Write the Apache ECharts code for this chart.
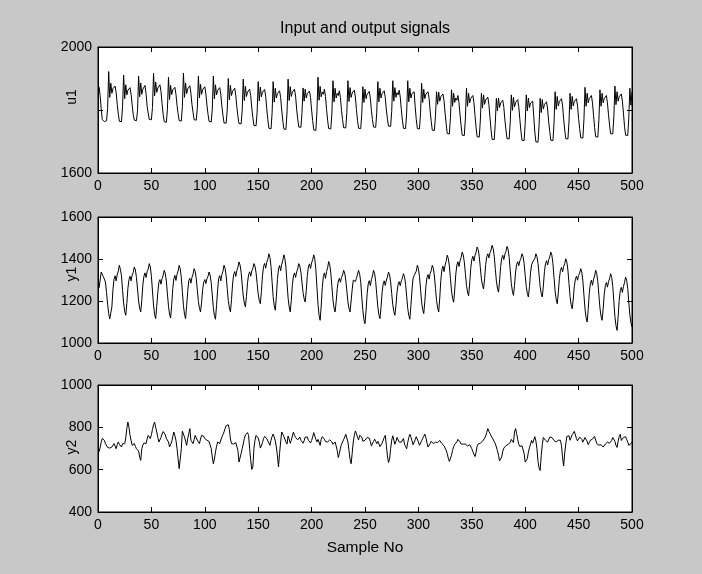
<!DOCTYPE html>
<html>
<head>
<meta charset="utf-8">
<script src="https://cdn.jsdelivr.net/npm/echarts@6/dist/echarts.min.js"></script>
<style>
  html, body { margin: 0; padding: 0; background: #c8c8c8; }
  #chart { width: 702px; height: 574px; }
</style>
</head>
<body>
<div id="chart"></div>
<script>
// Input signal u1 (samples 1..500)
const u1 = [
  1874,1846,1803,1770,
  1768,1763,1762,1766,1805,1922,1840,1885,1853,1868,1862,1876,1855,1818,
  1788,1764,1760,1763,1812,1911,1836,1880,1848,1863,1857,1871,1850,1815,
  1785,1768,1763,1766,1798,1908,1842,1886,1850,1866,1864,1878,1852,1812,
  1790,1770,1765,1769,1808,1917,1845,1889,1856,1870,1865,1880,1858,1820,
  1786,1763,1758,1761,1802,1904,1833,1878,1849,1864,1858,1872,1850,1814,
  1789,1766,1762,1765,1810,1917,1840,1886,1852,1867,1861,1877,1853,1817,
  1792,1769,1765,1768,1806,1908,1838,1882,1850,1865,1860,1874,1851,1816,
  1787,1764,1760,1762,1803,1908,1835,1880,1848,1862,1857,1871,1849,1812,
  1783,1759,1755,1758,1800,1900,1832,1878,1846,1860,1855,1869,1847,1810,
  1780,1757,1753,1756,1797,1898,1830,1875,1843,1857,1852,1866,1845,1806,
  1776,1751,1747,1750,1793,1890,1829,1873,1842,1857,1851,1865,1844,1804,
  1770,1742,1737,1740,1790,1890,1825,1869,1838,1852,1846,1861,1840,1800,
  1768,1740,1735,1738,1794,1898,1830,1874,1843,1857,1851,1866,1844,1803,
  1772,1746,1742,1745,1792,1870,1828,1866,1838,1852,1847,1860,1840,1800,
  1766,1737,1732,1735,1796,1904,1831,1875,1842,1857,1850,1866,1843,1802,
  1768,1741,1737,1740,1790,1893,1826,1869,1838,1853,1846,1861,1839,1799,
  1769,1744,1740,1743,1792,1893,1827,1871,1840,1854,1848,1863,1841,1801,
  1767,1742,1738,1741,1788,1874,1824,1866,1836,1850,1844,1859,1837,1798,
  1770,1746,1742,1745,1791,1890,1826,1869,1838,1852,1846,1861,1839,1800,
  1772,1749,1745,1748,1795,1893,1828,1871,1840,1855,1848,1863,1841,1802,
  1768,1742,1738,1741,1790,1893,1826,1869,1838,1852,1846,1858,1810,
  1770,1741,1737,1740,1788,1885,1824,1866,1836,1850,1844,1858,1837,1797,
  1764,1736,1732,1735,1782,1858,1818,1857,1828,1842,1836,1851,1829,1790,
  1756,1725,1721,1724,1776,1864,1812,1853,1824,1838,1831,1846,1824,1784,
  1750,1720,1716,1719,1774,1869,1812,1853,1823,1837,1831,1846,1823,1782,
  1745,1715,1711,1714,1768,1853,1806,1848,1818,1832,1826,1841,1818,1777,
  1738,1707,1703,1706,1758,1837,1797,1838,1808,1822,1816,1831,1808,1768,
  1736,1709,1705,1708,1762,1848,1799,1840,1810,1824,1818,1833,1810,1770,
  1733,1704,1700,1703,1758,1848,1797,1838,1808,1822,1816,1828,1780,
  1730,1699,1695,1698,1752,1837,1792,1833,1803,1817,1811,1826,1803,1762,
  1732,1704,1700,1703,1760,1858,1802,1843,1813,1827,1821,1836,1813,1772,
  1737,1709,1705,1708,1762,1853,1802,1843,1813,1827,1821,1836,1813,1773,
  1741,1712,1708,1711,1770,1872,1812,1853,1823,1837,1831,1846,1823,1783,
  1744,1715,1711,1714,1768,1864,1812,1853,1823,1837,1831,1846,1823,1785,
  1752,1725,1721,1724,1778,1876,1817,1858,1828,1842,1836,1851,1828,1790,
  1748,1720,1716,1719,1774,1869,1815,1858
];

// Output signal y1
const y1 = [
  1262,1300,1338,1330,1316,1322,1290,1240,1185,1140,1115,
  1108,1172,1255,1303,1320,1296,1326,1342,1370,1350,1320,1250,1190,1150,
  1132,1188,1260,1302,1318,1296,1324,1336,1362,1348,1312,1257,1200,1166,
  1148,1203,1276,1318,1334,1312,1340,1352,1378,1362,1318,1248,1180,1136,
  1116,1175,1240,1290,1302,1280,1307,1321,1346,1331,1295,1234,1175,1138,
  1119,1180,1259,1305,1322,1298,1327,1343,1370,1353,1312,1245,1178,1137,
  1116,1178,1245,1297,1308,1285,1313,1328,1354,1341,1307,1252,1198,1165,
  1148,1194,1255,1289,1302,1283,1306,1317,1338,1323,1287,1228,1168,1130,
  1113,1179,1252,1308,1321,1296,1326,1342,1370,1355,1319,1260,1202,1167,
  1148,1206,1281,1325,1340,1317,1345,1360,1386,1372,1337,1280,1224,1190,
  1172,1222,1287,1325,1339,1318,1343,1355,1378,1366,1334,1284,1233,1203,
  1187,1245,1320,1364,1379,1356,1384,1399,1425,1407,1364,1292,1221,1177,
  1156,1220,1303,1352,1369,1344,1374,1392,1420,1402,1358,1285,1214,1171,
  1148,1204,1277,1319,1334,1312,1339,1353,1378,1366,1336,1288,1240,1211,
  1195,1249,1321,1362,1377,1355,1382,1396,1420,1399,1349,1265,1184,1132,
  1108,1176,1264,1316,1334,1308,1340,1358,1388,1372,1333,1269,1206,1168,
  1148,1196,1259,1295,1308,1289,1312,1324,1346,1333,1300,1248,1196,1165,
  1148,1200,1255,1299,1304,1293,1308,1328,1346,1327,1291,1218,1155,1111,
  1092,1154,1234,1281,1297,1273,1302,1319,1346,1331,1293,1232,1172,1135,
  1116,1170,1240,1281,1296,1274,1300,1314,1338,1325,1291,1236,1182,1149,
  1132,1180,1243,1279,1292,1273,1296,1308,1330,1316,1280,1223,1165,1131,
  1113,1179,1252,1308,1321,1326,1342,1370,1355,1317,1256,1196,1159,
  1140,1196,1269,1311,1326,1304,1331,1345,1370,1356,1319,1260,1202,1167,
  1148,1214,1299,1349,1366,1340,1371,1389,1418,1403,1367,1307,1248,1213,
  1194,1252,1327,1371,1387,1364,1392,1407,1433,1419,1385,1330,1275,1243,
  1225,1281,1355,1397,1413,1390,1417,1432,1457,1444,1411,1358,1305,1274,
  1257,1307,1373,1411,1425,1405,1430,1442,1465,1450,1414,1354,1296,1261,
  1242,1295,1364,1404,1418,1397,1423,1436,1460,1445,1407,1345,1283,1247,
  1227,1275,1338,1374,1387,1368,1391,1403,1425,1412,1378,1323,1269,1236,
  1219,1269,1334,1372,1386,1390,1402,1425,1412,1378,1323,1269,1236,
  1219,1271,1339,1378,1392,1371,1396,1410,1433,1417,1377,1311,1247,1208,
  1187,1239,1307,1346,1360,1339,1364,1378,1401,1385,1347,1283,1221,1183,
  1163,1209,1270,1304,1318,1299,1322,1333,1354,1337,1296,1228,1162,1121,
  1100,1160,1237,1283,1299,1275,1304,1319,1346,1330,1292,1228,1166,1128,
  1108,1162,1232,1273,1288,1266,1292,1306,1330,1312,1269,1196,1126,1083,
  1060,1122,1202,1249,1265,1241,1270,1287,1314,1298,1260,1196,1134,1096,
  1076
];

// Output signal y2
const y2 = [
  684,705,730,748,754,738,722,715,705,699,702,710,707,716,723,712,699,718,731,720,712,707,722,731,723,
  750,795,825,800,762,738,715,720,723,710,699,707,688,660,644,699,716,726,731,723,745,762,758,747,765,
  790,812,825,800,778,752,731,739,752,768,780,786,765,747,738,731,707,720,731,755,778,760,739,700,652,
  605,650,699,782,768,754,735,715,747,770,794,739,730,723,742,762,750,739,730,723,745,762,770,758,747,
  743,739,735,733,731,700,660,628,650,684,710,731,727,723,740,754,766,778,795,808,817,812,790,745,723,
  731,721,715,728,735,691,636,641,676,699,721,747,765,770,775,762,699,644,601,613,699,739,762,768,750,
  731,702,712,728,747,757,754,747,736,728,715,739,757,768,754,736,707,665,613,676,731,778,768,757,750,
  731,721,759,744,725,738,759,778,762,752,747,741,744,754,739,730,725,736,754,760,754,739,730,726,738,
  754,775,759,743,731,743,739,715,744,756,762,744,733,738,731,723,741,741,731,720,718,731,712,690,657,
  677,702,720,731,743,754,767,776,731,691,649,628,677,731,762,783,770,752,741,762,767,754,734,726,739,
  739,752,760,749,733,712,718,734,744,734,723,734,728,709,716,725,730,752,762,714,665,634,649,699,739,
  760,754,720,734,752,743,731,723,730,738,747,721,709,699,728,752,767,754,736,718,726,741,756,752,731,
  715,715,736,747,757,768,752,728,707,709,723,734,734,723,728,730,723,728,731,738,733,723,716,713,707,
  691,676,654,639,636,668,691,709,720,726,731,743,743,731,721,716,721,723,721,716,712,707,718,718,699,
  685,673,662,682,711,721,723,725,730,734,739,749,759,776,794,781,771,762,752,743,733,723,707,690,668,
  642,644,660,687,702,707,713,721,720,716,728,743,738,728,778,794,770,743,720,709,710,713,709,676,636,
  630,652,684,704,721,738,725,725,756,736,699,639,608,596,666,718,752,744,739,747,730,723,754,759,752,
  744,738,734,731,734,739,744,739,713,656,618,679,721,757,765,760,739,752,765,773,781,776,747,736,731,
  754,756,743,730,733,752,744,734,718,728,739,743,744,748,757,750,723,718,716,723,718,713,707,715,721,
  730,730,726,725,726,738,752,756,734,715,705,734,756,767,738,734,752,759,756,743,730,715,720,723,731
];

const axisNames = ['u1', 'y1', 'y2'];
const yLimits = [[1600, 2000], [1000, 1600], [400, 1000]];
// tick values whose labels are left blank (the u1 caption sits there)
const blankTickLabels = [[1800], [], []];
const yStep = 200;
const xLimits = [0, 500];
const xStep = 50;
const titleText = 'Input and output signals';
const xLabelText = 'Sample No';

const signals = [u1, y1, y2];
const boxes = [
  { top: 47, height: 126, captionY: 97 },
  { top: 217, height: 126, captionY: 274 },
  { top: 385, height: 127, captionY: 447 }
];
const plotLeft = 98, plotWidth = 534;
const font = 'Liberation Sans, Arial, sans-serif';
const tickSize = 14;
const black = '#000';

const grid = [], xAxis = [], yAxis = [], series = [], names = [];
boxes.forEach((b, i) => {
  grid.push({
    left: plotLeft, top: b.top, width: plotWidth, height: b.height,
    show: true, backgroundColor: '#fff', borderColor: black, borderWidth: 1,
    containLabel: false
  });
  const xBase = {
    type: 'value', gridIndex: i, min: xLimits[0], max: xLimits[1], interval: xStep,
    axisLine: { show: true, onZero: false, lineStyle: { color: black, width: 1 } },
    axisTick: { show: true, inside: true, length: 5, lineStyle: { color: black } },
    splitLine: { show: false }
  };
  xAxis.push(Object.assign({}, xBase, {
    position: 'bottom',
    axisLabel: { show: true, color: black, fontFamily: font, fontSize: tickSize, margin: 6,
                 formatter: v => String(v) }
  }));
  xAxis.push(Object.assign({}, xBase, { position: 'top', axisLabel: { show: false } }));
  const yBase = {
    type: 'value', gridIndex: i, min: yLimits[i][0], max: yLimits[i][1], interval: yStep,
    axisLine: { show: true, onZero: false, lineStyle: { color: black, width: 1 } },
    axisTick: { show: true, inside: true, length: 5, lineStyle: { color: black } },
    splitLine: { show: false }
  };
  yAxis.push(Object.assign({}, yBase, {
    position: 'left',
    axisLabel: { show: true, color: black, fontFamily: font, fontSize: tickSize, margin: 6,
                 formatter: v => (blankTickLabels[i].indexOf(v) >= 0 ? '' : String(v)) }
  }));
  yAxis.push(Object.assign({}, yBase, { position: 'right', axisLabel: { show: false } }));
  series.push({
    type: 'line', xAxisIndex: 2 * i, yAxisIndex: 2 * i,
    data: signals[i].map((v, k) => [k + 1, v]),
    showSymbol: false, symbol: 'none', smooth: false,
    lineStyle: { color: black, width: 1 },
    emphasis: { disabled: true }, silent: true
  });
  // vertical axis caption, reading bottom to top
  names.push({
    type: 'text', x: 72, y: b.captionY, rotation: Math.PI / 2,
    style: { text: axisNames[i], fill: black, font: tickSize + 'px ' + font,
             textAlign: 'center', textVerticalAlign: 'middle' }
  });
});

const chart = echarts.init(document.getElementById('chart'), null, { renderer: 'canvas' });
chart.setOption({
  backgroundColor: '#c8c8c8',
  animation: false,
  grid, xAxis, yAxis, series,
  graphic: names.concat([
    { type: 'text', x: plotLeft + plotWidth / 2, y: 29,
      style: { text: titleText, fill: black, font: '16px ' + font, textAlign: 'center', textVerticalAlign: 'middle' } },
    { type: 'text', x: plotLeft + plotWidth / 2, y: 548,
      style: { text: xLabelText, fill: black, font: '15.5px ' + font, textAlign: 'center', textVerticalAlign: 'middle' } }
  ])
});
</script>
</body>
</html>
